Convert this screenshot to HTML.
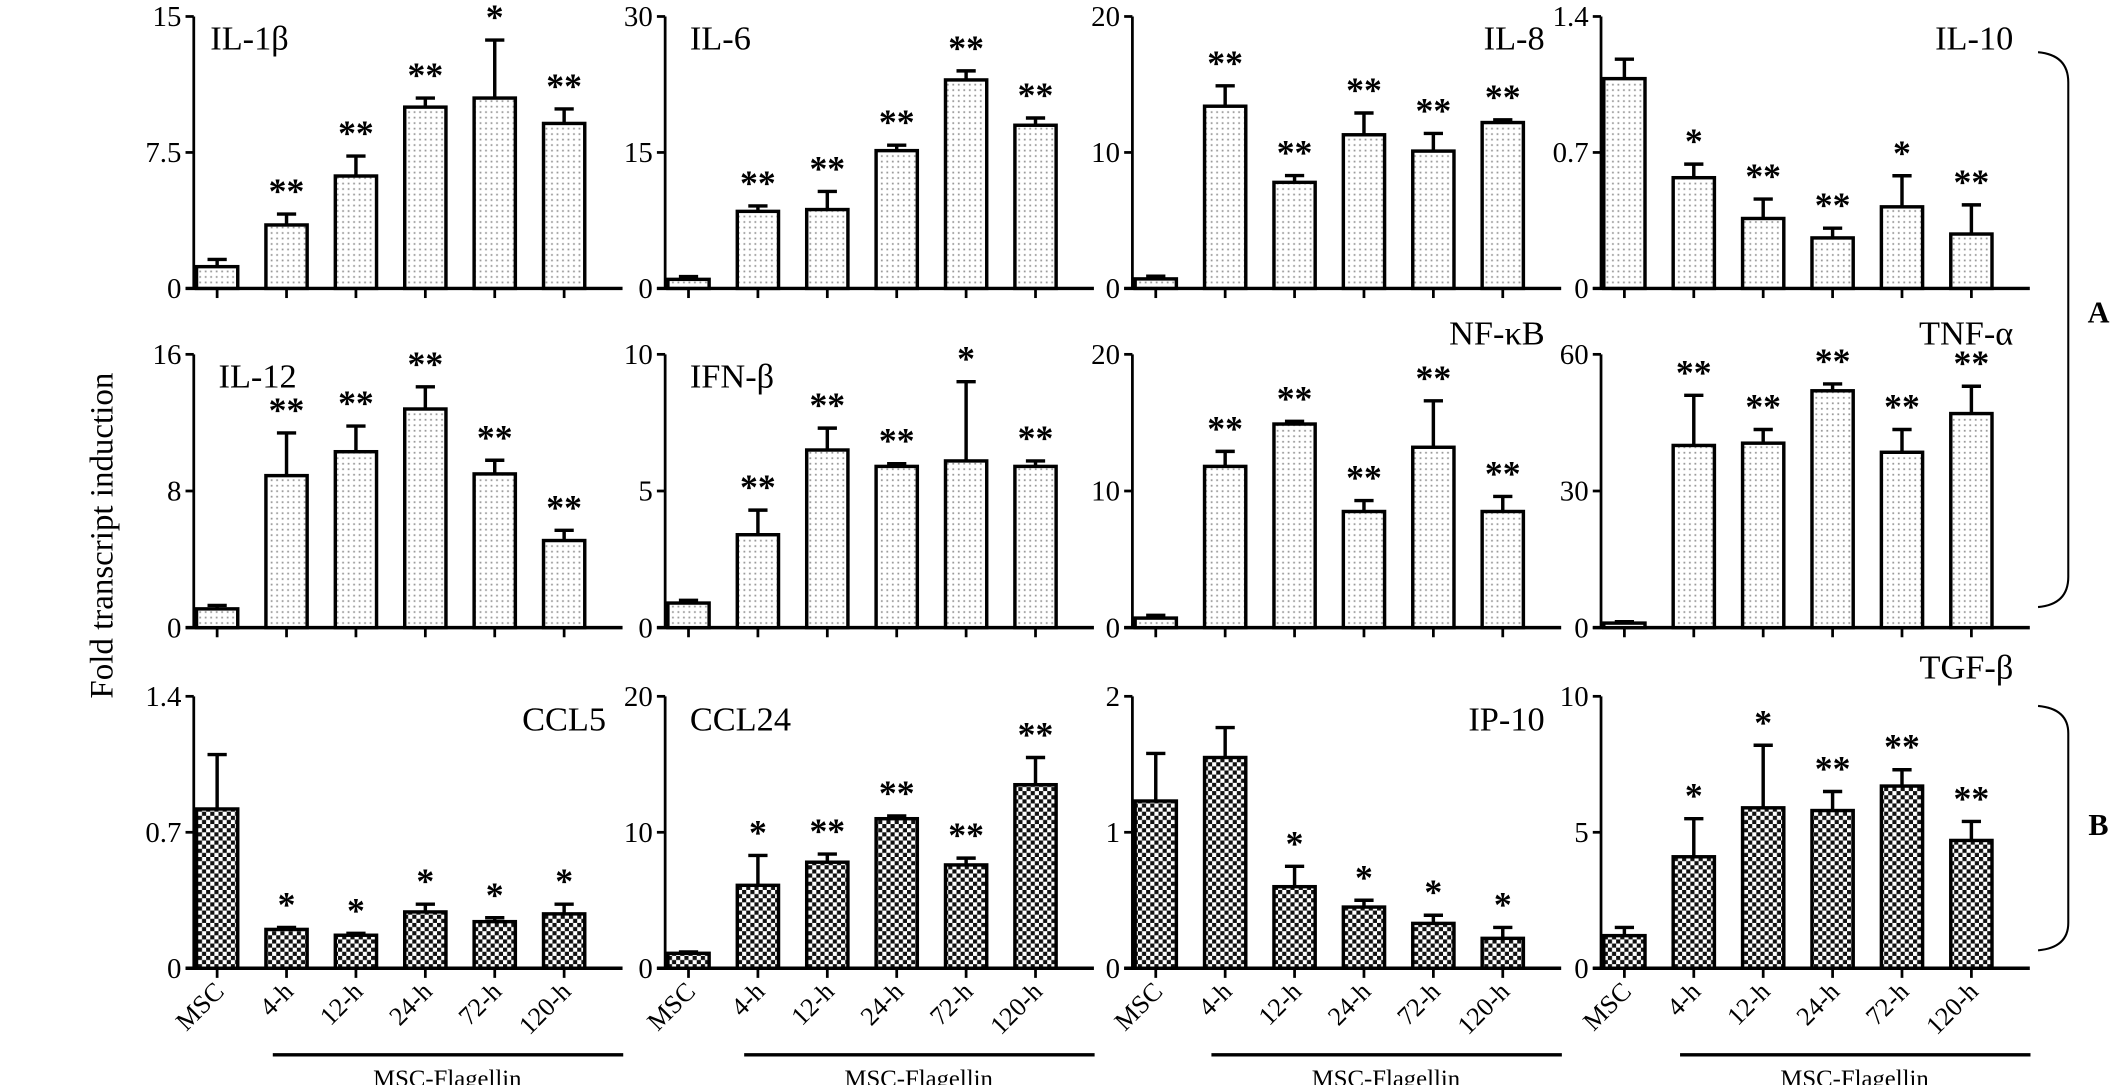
<!DOCTYPE html>
<html><head><meta charset="utf-8"><style>
html,body{margin:0;padding:0;background:#fff;}
svg{display:block;}
text{font-family:"Liberation Serif",serif;fill:#000;}
</style></head><body>
<svg id="fig" width="2126" height="1085" viewBox="0 0 1547 790" preserveAspectRatio="none" xmlns="http://www.w3.org/2000/svg">
<defs>
<pattern id="dots" width="4" height="4" patternUnits="userSpaceOnUse"><rect width="4" height="4" fill="#fff"/><rect x="1" y="1" width="1.3" height="1.3" fill="#9a9a9a"/></pattern>
<pattern id="checks" width="6" height="6" patternUnits="userSpaceOnUse"><rect width="6" height="6" fill="#fff"/><rect width="3" height="3" fill="#111"/><rect x="3" y="3" width="3" height="3" fill="#111"/></pattern>
</defs>
<text transform="translate(82,390) rotate(-90)" text-anchor="middle" font-size="24">Fold transcript induction</text>
<path d="M1483,38 Q1505,40 1505,60 L1505,420 Q1505,440 1483,442" fill="none" stroke="#000" stroke-width="1.5"/>
<text x="1527" y="235" text-anchor="middle" font-size="22" font-weight="bold">A</text>
<path d="M1483,514 Q1505,516 1505,534 L1505,672 Q1505,690 1483,692" fill="none" stroke="#000" stroke-width="1.5"/>
<text x="1527" y="608" text-anchor="middle" font-size="22" font-weight="bold">B</text>
<g id="panels"></g>
</svg>
<script>
const categories = ["MSC","4-h","12-h","24-h","72-h","120-h"];
const panelNames = ["IL-1β","IL-6","IL-8","IL-10","IL-12","IFN-β","NF-κB","TNF-α","CCL5","CCL24","IP-10","TGF-β"];
const yMax = [15,30,20,1.4,16,10,20,60,1.4,20,2,10];
const tickLabels = [["0","7.5","15"],["0","15","30"],["0","10","20"],["0","0.7","1.4"],["0","8","16"],["0","5","10"],["0","10","20"],["0","30","60"],["0","0.7","1.4"],["0","10","20"],["0","1","2"],["0","5","10"]];
const means = [
 [1.2,3.5,6.2,10,10.5,9.1],
 [1.0,8.5,8.7,15.2,23,18],
 [0.7,13.4,7.8,11.3,10.1,12.2],
 [1.08,0.57,0.36,0.26,0.42,0.28],
 [1.1,8.9,10.3,12.8,9.0,5.1],
 [0.9,3.4,6.5,5.9,6.1,5.9],
 [0.7,11.8,14.9,8.5,13.2,8.5],
 [1,40,40.5,52,38.5,47],
 [0.82,0.2,0.17,0.29,0.24,0.28],
 [1.1,6.1,7.8,11,7.6,13.5],
 [1.23,1.55,0.6,0.45,0.33,0.22],
 [1.2,4.1,5.9,5.8,6.7,4.7]];
const errors = [
 [0.4,0.6,1.1,0.5,3.2,0.8],
 [0.3,0.6,2,0.6,1,0.8],
 [0.2,1.5,0.5,1.6,1.3,0.2],
 [0.1,0.07,0.1,0.05,0.16,0.15],
 [0.2,2.5,1.5,1.3,0.8,0.6],
 [0.1,0.9,0.8,0.1,2.9,0.2],
 [0.2,1.1,0.2,0.8,3.4,1.1],
 [0.3,11,3,1.5,5,6],
 [0.28,0.01,0.01,0.04,0.02,0.05],
 [0.1,2.2,0.6,0.2,0.5,2],
 [0.35,0.22,0.15,0.05,0.06,0.08],
 [0.3,1.4,2.3,0.7,0.6,0.7]];
const stars = [
 ["","**","**","**","*","**"],["","**","**","**","**","**"],["","**","**","**","**","**"],["","*","**","**","*","**"],
 ["","**","**","**","**","**"],["","**","**","**","*","**"],["","**","**","**","**","**"],["","**","**","**","**","**"],
 ["","*","*","*","*","*"],["","*","**","**","**","**"],["","","*","*","*","*"],["","*","*","**","**","**"]];

const NS="http://www.w3.org/2000/svg";
const g=document.getElementById('panels');
const colX=[141,484,824,1165], rowTop=[12,258,507], rowZero=[210,457,705];
const labelPos=[["start",12,36],["start",18,36],["end",300,36],["end",300,36],
 ["start",18,282],["start",18,282],["end",300,251],["end",300,251],
 ["end",300,532],["start",18,532],["end",300,532],["end",300,494]];
function mk(tag,attrs,parent){const e=document.createElementNS(NS,tag);for(const k in attrs)e.setAttribute(k,attrs[k]);parent.appendChild(e);return e;}
for(let p=0;p<12;p++){
 const r=Math.floor(p/4), c=p%4, x0=colX[c], top=rowTop[r], zero=rowZero[r];
 const yS=v=>zero-(v/yMax[p])*(zero-top);
 const xS=i=>x0+17+i*50.5;
 const pg=mk('g',{},g);
 
 
 const ya=mk('line',{x1:x0,y1:top,x2:x0,y2:zero,stroke:'#000','stroke-width':2},pg);
 
 
 const xa=mk('line',{x1:x0-6,y1:zero,x2:x0+312,y2:zero,stroke:'#000','stroke-width':2.5},pg);
 
 
 tickLabels[p].forEach((t,i)=>{
  const v=yMax[p]*i/2, y=yS(v);
  mk('line',{x1:x0-6,y1:y,x2:x0,y2:y,stroke:'#000','stroke-width':2},pg);
  const tt=mk('text',{x:x0-9,y:y+7,'text-anchor':'end','font-size':21},pg);
  tt.textContent=t;
  
  
 });
 const lp=labelPos[p];
 const lt=mk('text',{x:x0+lp[1],y:lp[2],'text-anchor':lp[0],'font-size':25},pg);
 lt.textContent=panelNames[p];
 
 
 for(let i=0;i<6;i++){
  const cx=xS(i), yv=yS(means[p][i]), ye=yS(means[p][i]+errors[p][i]);
  mk('line',{x1:cx,y1:zero,x2:cx,y2:zero+7,stroke:'#000','stroke-width':2},pg);
  const b=mk('rect',{x:cx-15,y:yv,width:30,height:zero-yv,fill:r===2?'url(#checks)':'url(#dots)',stroke:'#000','stroke-width':2.5},pg);
  
  
  const eb=mk('path',{d:`M${cx},${yv} L${cx},${ye} M${cx-7},${ye} L${cx+7},${ye}`,stroke:'#000','stroke-width':2.5,fill:'none'},pg);
  
  
  if(stars[p][i]){
   const st=mk('text',{x:cx,y:ye-8,'text-anchor':'middle','font-size':26,'font-family':'Liberation Sans, sans-serif','font-weight':'bold'},pg);
   st.textContent=stars[p][i];
   
   
  }
  if(r===2){
   const xl=mk('text',{transform:`translate(${cx+6},${zero+18}) rotate(-45)`,'text-anchor':'end','font-size':19},pg);
   xl.textContent=categories[i];
   
   
  }
 }
 if(r===2){
  const gl=mk('line',{x1:xS(1)-10,y1:768,x2:xS(5)+43,y2:768,stroke:'#000','stroke-width':2.5},pg);
  
  
  const gt=mk('text',{x:(xS(1)+xS(5))/2+16,y:791,'text-anchor':'middle','font-size':18},pg);
  gt.textContent='MSC-Flagellin';
  
  
 }
}
</script>
</body></html>
